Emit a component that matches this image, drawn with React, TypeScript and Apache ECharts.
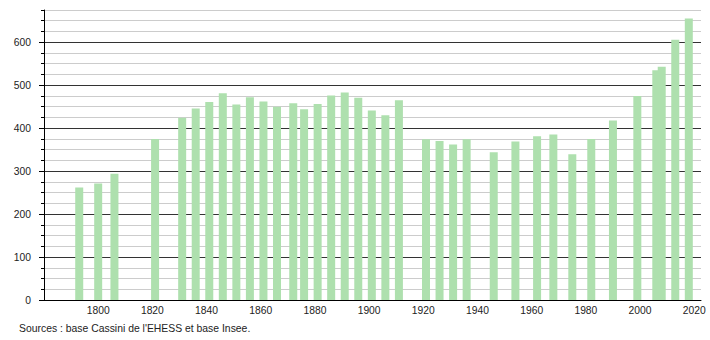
import React, { useEffect, useRef } from "react";
import * as echarts from "echarts";

const years = [1793, 1800, 1806, 1821, 1831, 1836, 1841, 1846, 1851, 1856, 1861, 1866, 1872, 1876, 1881, 1886, 1891, 1896, 1901, 1906, 1911, 1921, 1926, 1931, 1936, 1946, 1954, 1962, 1968, 1975, 1982, 1990, 1999, 2006, 2008, 2013, 2018];
const population = [262, 271, 294, 375, 424, 446, 461, 481, 455, 472, 462, 450, 458, 444, 456, 476, 483, 471, 441, 430, 465, 374, 370, 362, 374, 344, 369, 381, 385, 339, 375, 418, 475, 535, 543, 606, 655];
const xTickLabels = [1800, 1820, 1840, 1860, 1880, 1900, 1920, 1940, 1960, 1980, 2000, 2020];
const yTickLabels = [0, 100, 200, 300, 400, 500, 600];
const sourceText = "Sources : base Cassini de l'EHESS et base Insee.";

const FONT = "'Liberation Sans', Arial, sans-serif";

export default function App() {
  const ref = useRef<HTMLDivElement>(null);
  useEffect(() => {
    if (!ref.current) return;
    const chart = echarts.init(ref.current, undefined, { renderer: "svg" });
    const data = years.map((y, i) => [y, population[i]]);
    chart.setOption({
      animation: false,
      backgroundColor: "#ffffff",
      grid: { left: 44, right: 9, top: 10, bottom: 40, containLabel: false },
      xAxis: {
        type: "value",
        min: 1780,
        max: 2022.5,
        interval: 20,
        axisLine: { show: true, lineStyle: { color: "#000", width: 1 } },
        axisTick: { show: false },
        splitLine: { show: false },
        axisLabel: {
          customValues: xTickLabels,
          margin: 5,
          color: "#222",
          fontSize: 10.3,
          fontFamily: FONT,
          formatter: (v: number) => String(v),
        },
      },
      yAxis: [
        {
          type: "value",
          min: 0,
          max: 675,
          interval: 25,
          position: "left",
          axisLine: { show: true, lineStyle: { color: "#000", width: 1 } },
          axisTick: { show: true, length: 3, lineStyle: { color: "#000" } },
          axisLabel: { show: false },
          splitLine: {
            show: true,
            lineStyle: { color: ["#333333", "#cccccc", "#cccccc", "#cccccc"], width: 1 },
          },
        },
        {
          type: "value",
          min: 0,
          max: 675,
          interval: 100,
          position: "left",
          axisLine: { show: false },
          axisTick: { show: true, length: 5, customValues: yTickLabels, lineStyle: { color: "#000" } },
          axisLabel: {
            customValues: yTickLabels,
            margin: 13,
            color: "#222",
            fontSize: 10.3,
            fontFamily: FONT,
          },
          splitLine: { show: false },
        },
      ],
      series: [
        {
          type: "bar",
          yAxisIndex: 0,
          data,
          barWidth: 8,
          itemStyle: { color: "#aee0ae" },
        },
      ],
      graphic: [
        {
          type: "text",
          left: 19,
          top: 323,
          style: { text: sourceText, fill: "#222", fontSize: 10.4, fontFamily: FONT },
        },
      ],
    });
    return () => chart.dispose();
  }, []);
  return (
    <div
      ref={ref}
      style={{ position: "fixed", left: 0, top: 0, width: 710, height: 340 }}
    />
  );
}
